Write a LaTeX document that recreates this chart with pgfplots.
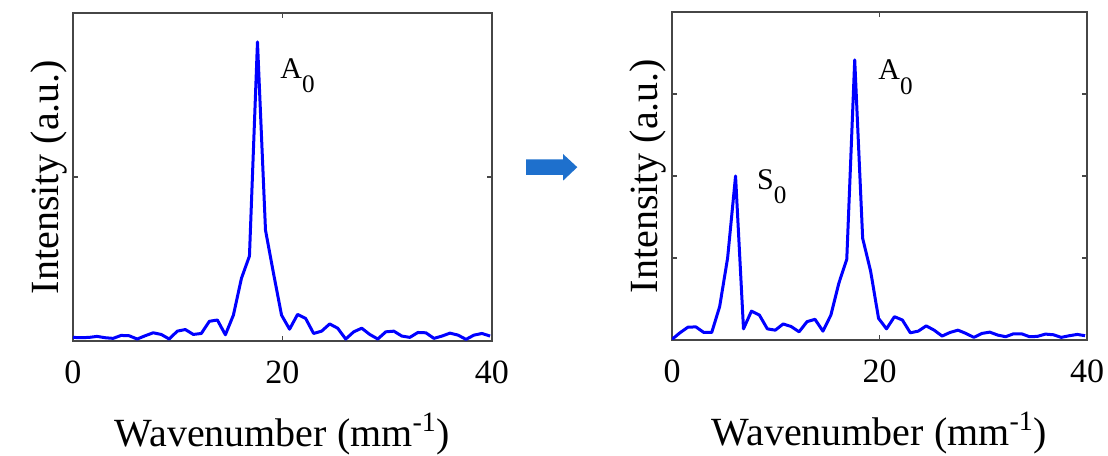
\documentclass[border=0pt]{standalone}
\usepackage{fontspec}
\setmainfont{Liberation Serif}
\usepackage{pgfplots}
\pgfplotsset{compat=1.18}
\definecolor{arrowblue}{RGB}{30,112,205}
\definecolor{frame}{RGB}{70,70,70}

\begin{document}
\begin{tikzpicture}
\pgfplotsset{
  spec/.style={
    scale only axis,
    width=209.5pt, height=164pt,
    xmin=0, xmax=40, ymin=0, ymax=1,
    xtick={0,20,40},
    yticklabel=\empty,
    axis line style={frame, line width=0.8pt},
    every tick/.style={frame, line width=0.8pt},
    major tick length=2.5pt,
    tick align=inside,
    /pgf/number format/assume math mode=true,
    xticklabel style={font=\fontsize{17}{17}\selectfont, anchor=base, yshift=-21.2pt, inner sep=0pt},
    xlabel={Wavenumber (mm\textsuperscript{-1})},
    ylabel={Intensity (a.u.)},
    label style={font=\fontsize{20}{20}\selectfont},
    xlabel style={at={(axis description cs:0.5,-0.322)}, anchor=base, inner sep=0pt},
    ylabel style={at={(axis description cs:-0.0358,0.5)}, anchor=base, rotate=0, inner sep=0pt},
    clip=true,
  },
  trace/.style={blue, line width=1.5pt, line join=round, mark=none},
}
\useasboundingbox (0,0) rectangle (554pt,227.5pt);

% Left panel
\begin{axis}[spec, at={(36.5pt,57pt)}, anchor=south west, ytick={0.5}]
\addplot[trace] table {
x y
0 0.011
0.766 0.010
1.531 0.011
2.297 0.014
3.063 0.010
3.829 0.008
4.594 0.017
5.360 0.016
6.126 0.006
6.891 0.016
7.657 0.025
8.423 0.020
9.188 0.006
9.954 0.030
10.720 0.035
11.486 0.020
12.251 0.023
13.017 0.060
13.783 0.064
14.548 0.019
15.314 0.079
16.080 0.191
16.845 0.259
17.611 0.912
18.377 0.338
19.143 0.206
19.908 0.079
20.674 0.036
21.440 0.081
22.205 0.069
22.971 0.023
23.737 0.030
24.502 0.052
25.268 0.039
26.034 0.006
26.800 0.028
27.565 0.039
28.331 0.020
29.097 0.006
29.862 0.028
30.628 0.030
31.394 0.015
32.159 0.011
32.925 0.026
33.691 0.025
34.457 0.008
35.222 0.015
35.988 0.024
36.754 0.018
37.519 0.005
38.285 0.018
39.051 0.023
39.816 0.015
};
\node[anchor=base west, inner sep=0pt, font=\fontsize{15}{15}\selectfont] at (axis cs:19.76,0.80) {A\raisebox{-7pt}{\fontsize{12.6}{12.6}\selectfont 0}};
\end{axis}

% Right panel
\begin{axis}[spec, at={(336pt,57.5pt)}, anchor=south west, width=207.5pt, ytick={0.25,0.5,0.75}]
\addplot[trace] table {
x y
0 0.002
0.766 0.022
1.531 0.039
2.297 0.040
3.063 0.023
3.829 0.023
4.594 0.102
5.360 0.250
6.126 0.500
6.891 0.034
7.657 0.088
8.423 0.076
9.188 0.034
9.954 0.030
10.720 0.049
11.486 0.041
12.251 0.025
13.017 0.056
13.783 0.063
14.548 0.027
15.314 0.076
16.080 0.173
16.845 0.246
17.611 0.854
18.377 0.310
19.143 0.210
19.908 0.066
20.674 0.034
21.440 0.071
22.205 0.061
22.971 0.022
23.737 0.027
24.502 0.043
25.268 0.030
26.034 0.012
26.800 0.023
27.565 0.030
28.331 0.020
29.097 0.008
29.862 0.020
30.628 0.024
31.394 0.015
32.159 0.010
32.925 0.019
33.691 0.019
34.457 0.010
35.222 0.011
35.988 0.018
36.754 0.016
37.519 0.008
38.285 0.013
39.051 0.017
39.816 0.013
};
\node[anchor=base west, inner sep=0pt, font=\fontsize{15}{15}\selectfont] at (axis cs:19.86,0.793) {A\raisebox{-7.5pt}{\fontsize{12.6}{12.6}\selectfont 0}};
\node[anchor=base west, inner sep=0pt, font=\fontsize{15}{15}\selectfont] at (axis cs:8.16,0.46) {S\raisebox{-7pt}{\fontsize{12.6}{12.6}\selectfont 0}};
\end{axis}

% Arrow between panels
\fill[arrowblue] (263pt,140pt) -- (281.5pt,140pt) -- (281.5pt,137.15pt) -- (288.65pt,143.9pt)
  -- (281.5pt,150.5pt) -- (281.5pt,147.85pt) -- (263pt,147.85pt) -- cycle;
\end{tikzpicture}
\end{document}
